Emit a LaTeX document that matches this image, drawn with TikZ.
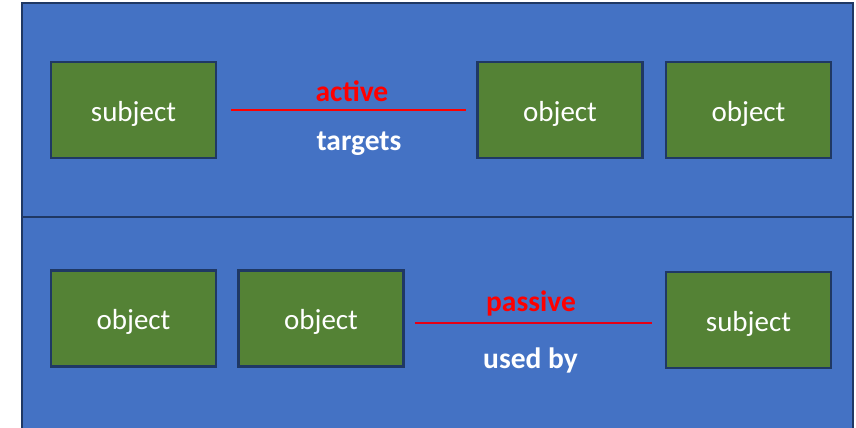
\documentclass[tikz,border=0pt]{standalone}
\usepackage{fontspec}
\setmainfont{Carlito}
\usetikzlibrary{calc}
\definecolor{panelblue}{HTML}{4472C4}
\definecolor{paneledge}{HTML}{1F3864}
\definecolor{boxgreen}{HTML}{548235}
\definecolor{linkred}{HTML}{FF0000}
\begin{document}
\begin{tikzpicture}[x=1pt,y=-1pt,
  panel/.style={draw=paneledge,fill=panelblue,line width=2pt},
  entity/.style={draw=paneledge,fill=boxgreen,line width=2.5pt,
    minimum width=165pt,minimum height=96pt,inner sep=0pt,
    text=white,font=\fontsize{29}{35}\selectfont,
    text height=22pt,text depth=0pt},
  link/.style={draw=linkred,line width=1.3pt},
  role/.style={anchor=base,text=linkred,font=\fontsize{29.5}{35}\selectfont\bfseries,inner sep=0pt},
  verb/.style={anchor=base,text=white,font=\fontsize{29.5}{35}\selectfont\bfseries,inner sep=0pt}]
\useasboundingbox (0,0) rectangle (856,428);
\clip (0,0) rectangle (856,428);

% two stacked panels
\draw[panel] (22,3) rectangle (853,217);
\draw[panel] (22,217) rectangle (853,440);

% top panel: the subject actively targets objects
\node[entity] (s1) at (133.5,110) {subject};
\node[entity] (o1) at (560,110) {object};
\node[entity] (o2) at (748.5,110) {object};
\draw[link,shorten <=14pt,shorten >=10pt] (s1) -- (o1);
\node[role] (active) at (352,101) {active};
\node[verb] (targets) at (359,150) {targets};

% bottom panel: objects are passively used by the subject
\node[entity] (o3) at (133.5,318.5) {object};
\node[entity] (o4) at (321,318.5) {object};
\node[entity] (s2) at (748.5,320) {subject};
\draw[link,draw={rgb,255:red,230;green,0;blue,20}] ($(o4.east)+(10,4.5)$) -- ($(s2.west)+(-13,3)$);
\node[role] (passive) at (531,311.5) {passive};
\node[verb] (usedby) at (530.5,368) {used by};
\end{tikzpicture}
\end{document}
